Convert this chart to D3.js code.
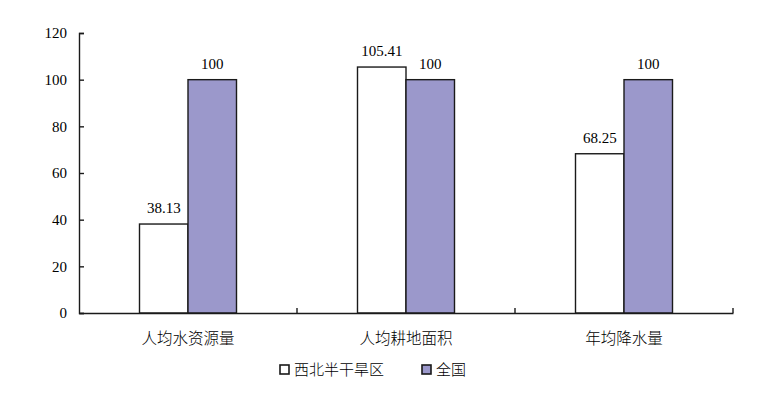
<!DOCTYPE html>
<html lang="zh">
<head>
<meta charset="utf-8">
<title>西北半干旱区与全国对比</title>
<script src="https://d3js.org/d3.v7.min.js"></script>
<style>
  body { margin: 0; background: #fff; }
</style>
</head>
<body>
<script>
var categories = ["人均水资源量", "人均耕地面积", "年均降水量"];
var seriesNames = ["西北半干旱区", "全国"];
var northwest = [38.13, 105.41, 68.25];
var national = [100, 100, 100];
var valueLabels = [["38.13", "105.41", "68.25"], ["100", "100", "100"]];
var yTicks = [0, 20, 40, 60, 80, 100, 120];

var w = 776, h = 396;
var margin = {left: 79, right: 43, top: 33, bottom: 83};
var colors = ["#ffffff", "#9b98cb"];
var numFont = "Liberation Serif, Tinos, Times New Roman, Times, serif";
var cjkFont = "Noto Sans CJK SC, sans-serif";

var svg = d3.select("body").append("svg")
    .attr("width", w)
    .attr("height", h);

var x = d3.scaleBand()
    .domain(categories)
    .range([margin.left, w - margin.right])
    .paddingInner(0)
    .paddingOuter(0);

var inner = d3.scaleBand()
    .domain(seriesNames)
    .range([60.5, x.bandwidth() - 60.5]);

var y = d3.scaleLinear()
    .domain([0, 120])
    .range([h - margin.bottom, margin.top]);

var data = [northwest, national];

// bars
data.forEach(function(vals, s) {
    svg.selectAll("rect.s" + s)
        .data(vals)
        .enter()
        .append("rect")
        .attr("class", "s" + s)
        .attr("x", function(d, i) { return x(categories[i]) + inner(seriesNames[s]); })
        .attr("y", function(d) { return y(d); })
        .attr("width", inner.bandwidth())
        .attr("height", function(d) { return y(0) - y(d); })
        .attr("fill", colors[s])
        .attr("stroke", "#1a1a1a")
        .attr("stroke-width", 1.4);

    svg.selectAll("text.v" + s)
        .data(vals)
        .enter()
        .append("text")
        .attr("class", "v" + s)
        .attr("x", function(d, i) { return x(categories[i]) + inner(seriesNames[s]) + inner.bandwidth() / 2; })
        .attr("y", function(d) { return y(d) - 11; })
        .attr("text-anchor", "middle")
        .attr("font-family", numFont)
        .attr("font-size", 15)
        .text(function(d, i) { return valueLabels[s][i]; });
});

// y axis
var yAxis = svg.append("g")
    .attr("transform", "translate(" + margin.left + ",0)")
    .call(d3.axisLeft(y).tickValues(yTicks).tickSize(-5).tickPadding(12).tickFormat(d3.format("d")));
yAxis.attr("font-family", numFont).attr("font-size", 15);
yAxis.selectAll("text").attr("fill", "#000");

// x axis
var xAxis = svg.append("g")
    .attr("transform", "translate(0," + y(0) + ")")
    .call(d3.axisBottom(x).tickSize(0).tickSizeOuter(0).tickFormat(""));

svg.append("g")
    .selectAll("line")
    .data(d3.range(1, categories.length + 1))
    .enter()
    .append("line")
    .attr("x1", function(d) { return margin.left + d * x.step(); })
    .attr("x2", function(d) { return margin.left + d * x.step(); })
    .attr("y1", y(0))
    .attr("y2", y(0) - 5)
    .attr("stroke", "#1a1a1a")
    .attr("stroke-width", 1.4);

svg.selectAll(".domain, .tick line").attr("stroke", "#1a1a1a").attr("stroke-width", 1.4);

svg.selectAll("text.cat")
    .data(categories)
    .enter()
    .append("text")
    .attr("class", "cat")
    .attr("x", function(d) { return x(d) + x.bandwidth() / 2; })
    .attr("y", y(0) + 31)
    .attr("text-anchor", "middle")
    .attr("font-family", cjkFont)
    .attr("font-weight", 300)
    .attr("font-size", 15.5)
    .text(function(d) { return d; });

// legend
var legendX = [280, 422];
var legend = svg.selectAll("g.legend")
    .data(seriesNames)
    .enter()
    .append("g")
    .attr("class", "legend")
    .attr("transform", function(d, i) { return "translate(" + legendX[i] + ",365)"; });

legend.append("rect")
    .attr("width", 9)
    .attr("height", 9)
    .attr("fill", function(d, i) { return colors[i]; })
    .attr("stroke", "#1a1a1a")
    .attr("stroke-width", 1.6);

legend.append("text")
    .attr("x", 14)
    .attr("y", 10)
    .attr("font-family", cjkFont)
    .attr("font-weight", 300)
    .attr("font-size", 15)
    .text(function(d) { return d; });
</script>
</body>
</html>
